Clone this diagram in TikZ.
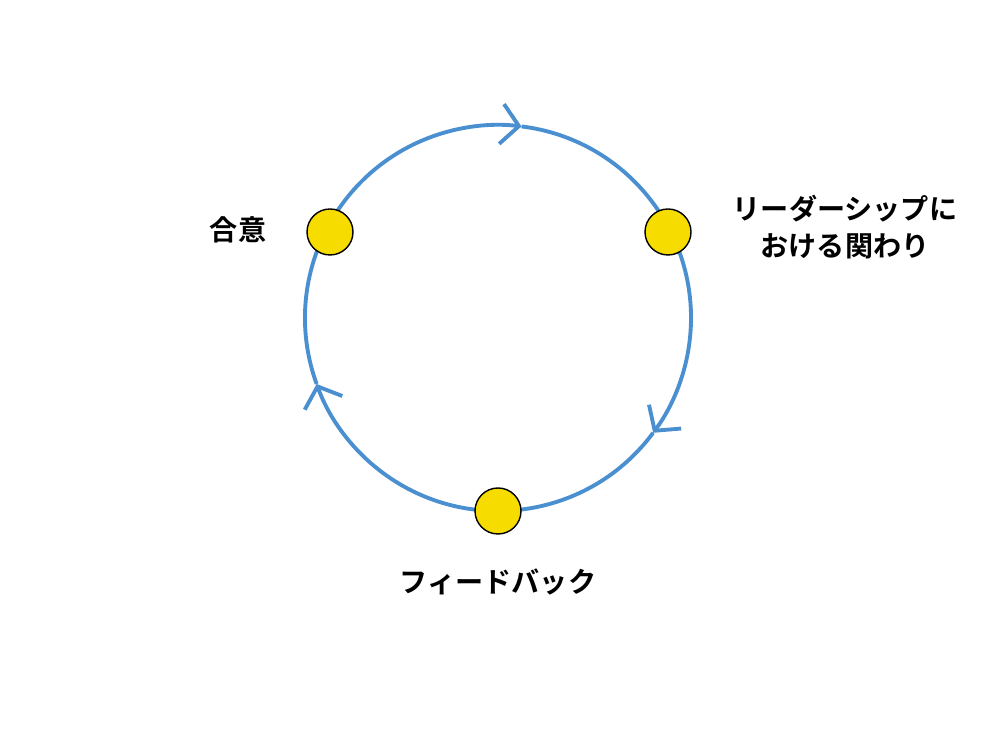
\documentclass[tikz,border=0pt]{standalone}
\usepackage{fontspec}
\newfontfamily\cjk{Noto Sans CJK JP Bold}
\usetikzlibrary{arrows.meta,calc}
\definecolor{cycleblue}{HTML}{4A8FD0}
\definecolor{dotyellow}{HTML}{F7DC00}

\begin{document}
\begin{tikzpicture}[
    loop/.style={line width=2.2pt, cycleblue, -{Straight Barb[length=3.5mm,width=8mm]}},
    stage/.style={circle, draw=black, fill=dotyellow, line width=0.8pt, minimum size=0.92cm, inner sep=0pt},
    lbl/.style={font=\cjk\fontsize{16}{21}\selectfont, align=center}
]
    % Frame
    \useasboundingbox (0,0) rectangle (20,14.64);

    % Centre of the cycle
    \coordinate (c) at (9.96,8.28);

    % Cycle arcs, clockwise
    \draw[loop] ($(c)+(200:3.86)$) arc (200:83:3.86);
    \draw[loop] ($(c)+(83:3.86)$) arc (83:-36.5:3.86);
    \draw[loop] ($(c)+(-36.5:3.86)$) arc (-36.5:-160:3.86);

    % Stages
    \node[stage] (agree) at (6.6,10.0) {};
    \node[stage] (lead) at (13.36,10.0) {};
    \node[stage] (feed) at (9.96,4.42) {};

    % Labels
    \node[lbl] at (4.76,10.04) {合意};
    \node[lbl] at (16.9,10.1) {リーダーシップに\\おける関わり};
    \node[lbl] at (9.96,3.0) {フィードバック};
\end{tikzpicture}
\end{document}
